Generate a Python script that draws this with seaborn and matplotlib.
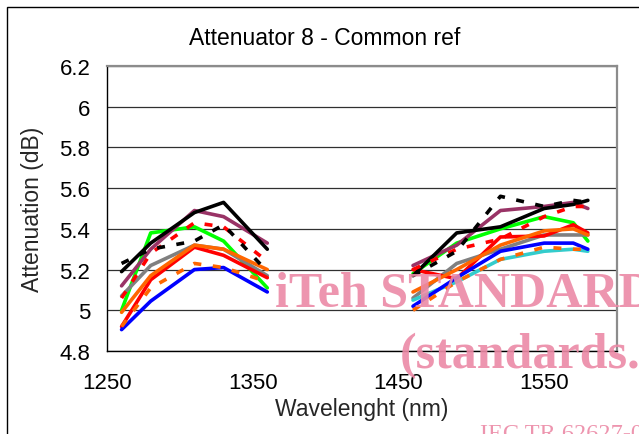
import numpy as np
import pandas as pd
import matplotlib
matplotlib.use("Agg")
import matplotlib.pyplot as plt
import seaborn as sns
from matplotlib.patches import Rectangle

# ---------------- data ----------------
wl_o = [1260, 1280, 1310, 1330, 1360]          # O-band wavelengths (nm)
wl_c = [1460, 1490, 1520, 1550, 1570, 1580]    # S/C/L-band wavelengths (nm)

green_o = [5.00, 5.38, 5.41, 5.34, 5.11]
green_c = [5.18, 5.33, 5.40, 5.46, 5.43, 5.34]
purple_o = [5.12, 5.30, 5.49, 5.46, 5.33]
purple_c = [5.22, 5.32, 5.49, 5.51, 5.53, 5.50]
grey_o = [5.07, 5.22, 5.32, 5.30, 5.17]
grey_c = [5.06, 5.23, 5.30, 5.37, 5.37, 5.37]
red_o = [4.92, 5.15, 5.31, 5.27, 5.16]
red_c = [5.20, 5.155, 5.36, 5.365, 5.42, 5.38]
cyan_c = [5.05, 5.14, 5.25, 5.29, 5.30, 5.29]
blue_o = [4.905, 5.045, 5.20, 5.21, 5.09]
blue_c = [5.02, 5.16, 5.29, 5.33, 5.33, 5.30]
orange_o = [4.99, 5.17, 5.32, 5.30, 5.20]
orange_c = [5.09, 5.20, 5.32, 5.39, 5.40, 5.37]
black_o = [5.19, 5.33, 5.48, 5.53, 5.30]
black_c = [5.17, 5.38, 5.41, 5.50, 5.52, 5.54]
red_dash_o = [5.06, 5.28, 5.43, 5.41, 5.24]
red_dash_c = [5.20, 5.30, 5.35, 5.46, 5.51, 5.51]
black_dash_o = [5.23, 5.30, 5.34, 5.42, 5.19]
black_dash_c = [5.17, 5.29, 5.56, 5.51, 5.54, 5.53]
orange_dash_o = [4.92, 5.11, 5.23, 5.21, 5.14]
orange_dash_c = [5.00, 5.14, 5.25, 5.31, 5.30, 5.30]

series = [
    ("green", green_o, green_c, "#00FF00", ""),
    ("purple", purple_o, purple_c, "#993366", ""),
    ("grey", grey_o, grey_c, "#808080", ""),
    ("red", red_o, red_c, "#FF0000", ""),
    ("cyan", None, cyan_c, "#33CCCC", ""),
    ("blue", blue_o, blue_c, "#0000FF", ""),
    ("orange", orange_o, orange_c, "#FF6600", ""),
    ("black", black_o, black_c, "#000000", ""),
    ("red dashed", red_dash_o, red_dash_c, "#FF0000", (2.2, 3.2)),
    ("black dashed", black_dash_o, black_dash_c, "#000000", (2.2, 3.2)),
    ("orange dashed", orange_dash_o, orange_dash_c, "#FF6600", (2.2, 3.2)),
]

x_ticks = [1250, 1350, 1450, 1550]
y_ticks = [4.8, 5.0, 5.2, 5.4, 5.6, 5.8, 6.0, 6.2]
y_tick_labels = ["4.8", "5", "5.2", "5.4", "5.6", "5.8", "6", "6.2"]

rows = []
for name, vo, vc, _, _ in series:
    if vo is not None:
        for w, v in zip(wl_o, vo):
            rows.append((name, "O", w, v))
    for w, v in zip(wl_c, vc):
        rows.append((name, "C", w, v))
df = pd.DataFrame(rows, columns=["series", "band", "wl", "att"])

names = [s[0] for s in series]
palette = {s[0]: s[3] for s in series}
dashes = {s[0]: s[4] for s in series}

# ---------------- figure ----------------
sns.set_style("white")
plt.rcParams["font.family"] = ["Liberation Sans", "DejaVu Sans"]

fig = plt.figure(figsize=(6.39, 4.35), dpi=100)
ax = fig.add_axes([107 / 639, 1 - 352 / 435, 510 / 639, 285 / 435])

sns.lineplot(data=df, x="wl", y="att", hue="series", style="series",
             units="band", estimator=None, hue_order=names, style_order=names,
             palette=palette, dashes=dashes, linewidth=2.6, legend=False,
             sort=True, ax=ax)

ax.set_xlim(1250, 1600)
ax.set_ylim(4.8, 6.2)
ax.set_xticks(x_ticks)
ax.set_xticklabels([str(t) for t in x_ticks])
ax.set_yticks(y_ticks)
ax.set_yticklabels(y_tick_labels)
ax.tick_params(axis="both", direction="out", length=5, width=1,
               color="black", labelsize=16, labelcolor="black")
ax.tick_params(axis="x", pad=10)
ax.tick_params(axis="y", pad=7)

ax.yaxis.grid(True, color="#303030", linewidth=0.9)
ax.xaxis.grid(False)
ax.set_axisbelow(True)

for side in ["top", "right"]:
    ax.spines[side].set_color("#8c8c8c")
    ax.spines[side].set_linewidth(1.6)
for side in ["left", "bottom"]:
    ax.spines[side].set_color("black")
    ax.spines[side].set_linewidth(1.0)

ax.set_xlabel("Wavelenght (nm)", fontsize=16.5)
ax.set_ylabel("Attenuation (dB)", fontsize=16.5)
ax.xaxis.set_label_coords(0.5, (352 - 398) / 285)
ax.yaxis.set_label_coords((44 - 107) / 510, 0.5)

fig.text(325 / 639, 1 - 45 / 435, "Attenuator 8 - Common ref",
         ha="center", va="baseline", fontsize=16.5, color="black")

# chart-area border
fig.patches.append(Rectangle((7 / 639, -0.1), 1.2, 1 - 8 / 435 + 0.1,
                             transform=fig.transFigure, fill=False,
                             edgecolor="black", linewidth=1.0))

# watermark overlay from source document
wm = dict(family=["Liberation Serif", "DejaVu Serif"], fontweight="bold",
          color="#EC8AA6", alpha=0.9, va="baseline", ha="left")
fig.text(275 / 639, 1 - 307 / 435, "iTeh STANDARDS", fontsize=36, **wm)
fig.text(400 / 639, 1 - 368 / 435, "(standards.iteh.ai)", fontsize=36, **wm)
wm2 = dict(wm)
wm2["fontweight"] = "normal"
fig.text(480 / 639, 1 - 440 / 435, "IEC TR 62627-03:2011", fontsize=17.5, **wm2)

fig.savefig("out.png", dpi=100)
